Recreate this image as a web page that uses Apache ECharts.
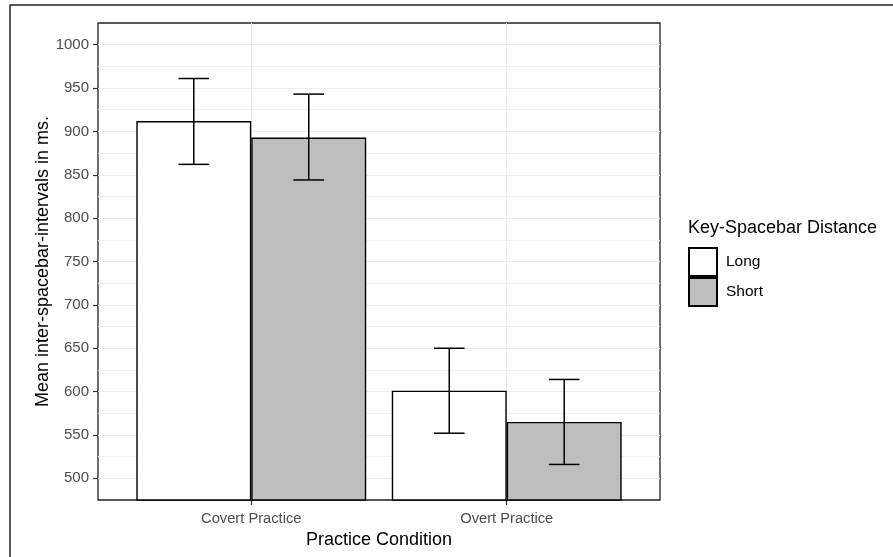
<!DOCTYPE html>
<html>
<head>
<meta charset="utf-8">
<script src="https://cdn.jsdelivr.net/npm/echarts@6/dist/echarts.min.js"></script>
<style>
html,body{margin:0;padding:0;background:#fff;}
#chart{width:893px;height:557px;}
</style>
</head>
<body>
<div id="chart"></div>
<script>
// ---- data ----
const categories = ['Covert Practice', 'Overt Practice'];
const categoryPos = [1, 2];
const groups = ['Long', 'Short'];
const longMean = [912, 601];
const shortMean = [893, 565];
const longLower = [862, 552];
const longUpper = [961, 650];
const shortLower = [844, 516];
const shortUpper = [943, 614];
const yTicks = [500, 550, 600, 650, 700, 750, 800, 850, 900, 950, 1000];
const yMinorTicks = [525, 575, 625, 675, 725, 775, 825, 875, 925, 975];
const yMin = 475, yMax = 1025;
const groupColors = ['#ffffff', '#bebebe'];

const FONT = "'Liberation Sans', Arial, sans-serif";
const chart = echarts.init(document.getElementById('chart'), null, {renderer: 'canvas'});

function barData(means) {
  return categoryPos.map((p, i) => [p, means[i]]);
}
function errData(lo, hi) {
  return categoryPos.map((p, i) => [p, lo[i], hi[i]]);
}
function errRender(offset) {
  return function (params, api) {
    const x = api.value(0) + offset;
    const lo = api.value(1), hi = api.value(2);
    const top = api.coord([x, hi]);
    const bot = api.coord([x, lo]);
    const l = api.coord([x - 0.06, hi])[0];
    const r = api.coord([x + 0.06, hi])[0];
    const st = {stroke: '#000', lineWidth: 1.5};
    return {
      type: 'group',
      children: [
        {type: 'line', shape: {x1: top[0], y1: top[1], x2: bot[0], y2: bot[1]}, style: st},
        {type: 'line', shape: {x1: l, y1: top[1], x2: r, y2: top[1]}, style: st},
        {type: 'line', shape: {x1: l, y1: bot[1], x2: r, y2: bot[1]}, style: st}
      ]
    };
  };
}

const option = {
  animation: false,
  backgroundColor: '#fff',
  textStyle: {fontFamily: FONT},
  title: {
    text: 'Key-Spacebar Distance',
    left: 688, top: 219, padding: 0,
    textStyle: {fontFamily: FONT, fontSize: 18, fontWeight: 'normal', color: '#000'}
  },
  legend: {
    data: groups,
    orient: 'vertical',
    left: 688, top: 247, padding: 0,
    itemWidth: 28, itemHeight: 28, itemGap: 0,
    icon: 'rect',
    textStyle: {fontFamily: FONT, fontSize: 15.5, color: '#000', padding: [0, 0, 0, 4]}
  },
  grid: {
    left: 98, top: 23, width: 562, height: 477,
    show: true, borderColor: '#222', borderWidth: 1.3, backgroundColor: 'transparent',
    containLabel: false
  },
  graphic: [{
    type: 'rect', silent: true, z: 100,
    shape: {x: 10, y: 5, width: 1000, height: 1000},
    style: {fill: 'none', stroke: '#222', lineWidth: 1.5}
  }],
  xAxis: {
    type: 'value', min: 0.4, max: 2.6,
    axisLine: {show: false},
    axisTick: {show: true, customValues: categoryPos, length: 5, lineStyle: {color: '#333', width: 1.2}},
    axisLabel: {
      customValues: categoryPos, margin: 11,
      formatter: v => categories[Math.round(v) - 1],
      fontFamily: FONT, fontSize: 14.7, color: '#4d4d4d'
    },
    splitLine: {show: true, lineStyle: {color: '#ebebeb', width: 1.1}},
    name: 'Practice Condition', nameLocation: 'middle', nameGap: 29,
    nameTextStyle: {fontFamily: FONT, fontSize: 18, color: '#000'}
  },
  yAxis: [{
    type: 'value', min: yMin, max: yMax,
    axisLine: {show: false},
    axisTick: {show: true, customValues: yTicks, length: 5, lineStyle: {color: '#333', width: 1.2}},
    axisLabel: {customValues: yTicks, margin: 9, formatter: v => String(v), fontFamily: FONT, fontSize: 15, color: '#4d4d4d'},
    splitLine: {show: true, lineStyle: {color: '#ebebeb', width: 1.1}},
    name: 'Mean inter-spacebar-intervals in ms.', nameLocation: 'middle', nameGap: 46,
    nameMoveOverlap: false,
    nameTextStyle: {fontFamily: FONT, fontSize: 18, color: '#000'}
  }, {
    type: 'value', min: yMin, max: yMax, position: 'right',
    axisLine: {show: false},
    axisTick: {show: false, customValues: yMinorTicks},
    axisLabel: {show: false, customValues: yMinorTicks},
    splitLine: {show: true, lineStyle: {color: '#ededed', width: 0.8}}
  }],
  series: [{
    name: groups[0], type: 'bar', data: barData(longMean),
    xAxisIndex: 0, yAxisIndex: 0,
    barGap: '0%', barCategoryGap: '10%',
    itemStyle: {color: groupColors[0], borderColor: '#000', borderWidth: 1.4},
    z: 2
  }, {
    name: groups[1], type: 'bar', data: barData(shortMean),
    xAxisIndex: 0, yAxisIndex: 0,
    barGap: '0%', barCategoryGap: '10%',
    itemStyle: {color: groupColors[1], borderColor: '#000', borderWidth: 1.4},
    z: 2
  }, {
    name: 'Long-err', type: 'custom', xAxisIndex: 0, yAxisIndex: 0,
    renderItem: errRender(-0.225), data: errData(longLower, longUpper),
    encode: {x: 0, y: [1, 2]}, z: 5
  }, {
    name: 'Short-err', type: 'custom', xAxisIndex: 0, yAxisIndex: 0,
    renderItem: errRender(0.225), data: errData(shortLower, shortUpper),
    encode: {x: 0, y: [1, 2]}, z: 5
  }]
};
chart.setOption(option);
</script>
</body>
</html>
